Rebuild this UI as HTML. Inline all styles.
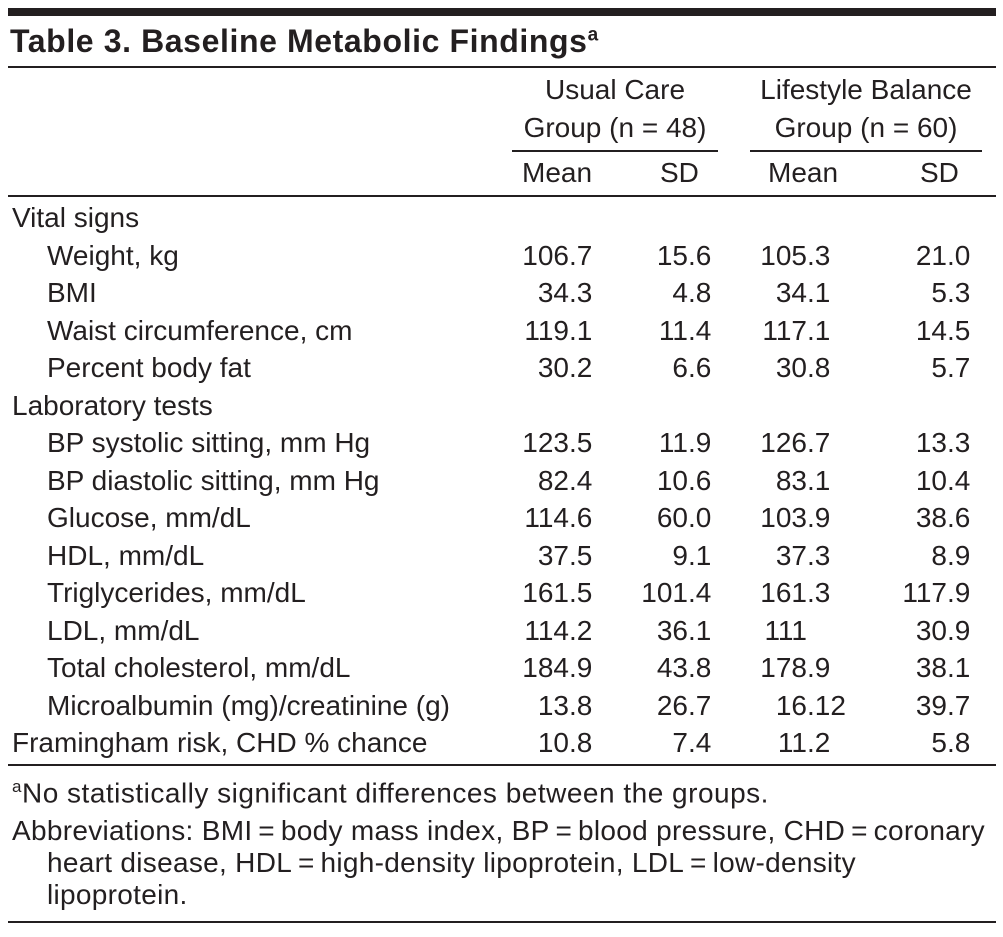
<!DOCTYPE html>
<html><head><meta charset="utf-8">
<style>
html,body{margin:0;padding:0;background:#fff;}
#page{position:relative;width:1003px;height:937px;overflow:hidden;font-family:"Liberation Sans Narrow","Liberation Sans",sans-serif;font-size:28px;color:#231f20;}
.t{position:absolute;white-space:nowrap;line-height:1;}
.ln{position:absolute;background:#231f20;}
</style></head><body>
<div id="page">
<div class="ln" style="left:8px;top:8px;width:988px;height:8px"></div>
<div class="t" style="left:10px;top:25px;font-weight:bold;font-size:32px;letter-spacing:0.6px;font-family:'Liberation Sans',sans-serif;">Table 3. Baseline Metabolic Findings<sup style="font-size:19px">a</sup></div>
<div class="ln" style="left:8px;top:66px;width:988px;height:2px"></div>
<div class="t" style="left:512px;width:206px;text-align:center;top:76px">Usual Care</div>
<div class="t" style="left:512px;width:206px;text-align:center;top:114px">Group (n = 48)</div>
<div class="t" style="left:750px;width:232px;text-align:center;top:76px">Lifestyle Balance</div>
<div class="t" style="left:750px;width:232px;text-align:center;top:114px">Group (n = 60)</div>
<div class="ln" style="left:512px;top:150px;width:206px;height:2px"></div>
<div class="ln" style="left:750px;top:150px;width:232px;height:2px"></div>
<div class="t" style="left:522px;top:159px">Mean</div>
<div class="t" style="left:660px;top:159px">SD</div>
<div class="t" style="left:768px;top:159px">Mean</div>
<div class="t" style="left:920px;top:159px">SD</div>
<div class="ln" style="left:8px;top:195px;width:988px;height:2px"></div>
<div id="rows"></div>
<div class="ln" style="left:8px;top:764px;width:988px;height:2px"></div>
<div class="t" style="left:12px;top:778px;font-size:28px;letter-spacing:0.5px"><sup style="font-size:17px">a</sup>No statistically significant differences between the groups.</div>
<div class="t" style="left:12px;top:815px;font-size:28px;letter-spacing:0.3px;line-height:32px">Abbreviations: BMI&thinsp;=&thinsp;body mass index, BP&thinsp;=&thinsp;blood pressure, CHD&thinsp;=&thinsp;coronary</div>
<div class="t" style="left:47px;top:847px;font-size:28px;letter-spacing:0.3px;line-height:32px">heart disease, HDL&thinsp;=&thinsp;high-density lipoprotein, LDL&thinsp;=&thinsp;low-density<br>lipoprotein.</div>
<div class="ln" style="left:8px;top:921px;width:988px;height:2px"></div>
</div>
<script>
const labels=["Vital signs","Weight, kg","BMI","Waist circumference, cm","Percent body fat","Laboratory tests","BP systolic sitting, mm Hg","BP diastolic sitting, mm Hg","Glucose, mm/dL","HDL, mm/dL","Triglycerides, mm/dL","LDL, mm/dL","Total cholesterol, mm/dL","Microalbumin (mg)/creatinine (g)","Framingham risk, CHD % chance"];
const indent=[0,1,1,1,1,0,1,1,1,1,1,1,1,1,0];
const ucMean=["","106.7","34.3","119.1","30.2","","123.5","82.4","114.6","37.5","161.5","114.2","184.9","13.8","10.8"];
const ucSD=["","15.6","4.8","11.4","6.6","","11.9","10.6","60.0","9.1","101.4","36.1","43.8","26.7","7.4"];
const lbMean=["","105.3","34.1","117.1","30.8","","126.7","83.1","103.9","37.3","161.3","111","178.9","16.12","11.2"];
const lbSD=["","21.0","5.3","14.5","5.7","","13.3","10.4","38.6","8.9","117.9","30.9","38.1","39.7","5.8"];
const rows=document.getElementById('rows');
const decX=[569,688,807,947];
const cols=[ucMean,ucSD,lbMean,lbSD];
const colNames=['uc-mean','uc-sd','lb-mean','lb-sd'];
labels.forEach((lab,i)=>{
  const y=204+i*37.5;
  const d=document.createElement('div');
  d.className='t';
  d.style.left=(indent[i]?47:12)+'px';
  d.style.top=y+'px';
  d.textContent=lab;
  
  
  rows.appendChild(d);
  cols.forEach((arr,c)=>{
    const v=arr[i]; if(!v) return;
    const p=v.split('.');
    const a=document.createElement('div');
    a.className='t';
    a.style.right=(1003-decX[c])+'px';
    a.style.top=y+'px';
    a.textContent=p[0];
    
    
    rows.appendChild(a);
    if(p.length>1){
      const b=document.createElement('div');
      b.className='t';
      b.style.left=decX[c]+'px';
      b.style.top=y+'px';
      b.textContent='.'+p[1];
      
      
      rows.appendChild(b);
    }
  });
});
</script>
</body></html>
